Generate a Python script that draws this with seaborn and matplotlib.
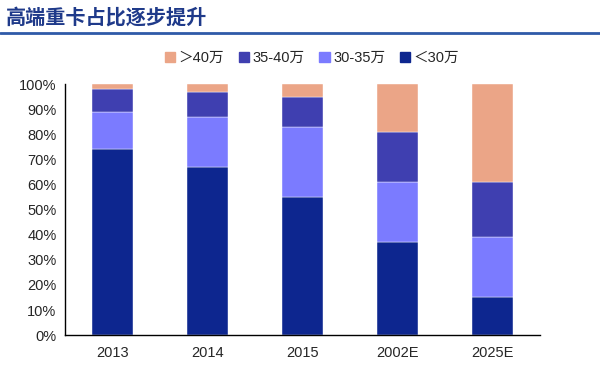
import matplotlib
matplotlib.use("Agg")
import matplotlib.pyplot as plt
import seaborn as sns
import numpy as np
from matplotlib.lines import Line2D

categories = ["2013", "2014", "2015", "2002E", "2025E"]
lt30 = [74, 67, 55, 37, 15]
s30_35 = [15, 20, 28, 24, 24]
s35_40 = [9, 10, 12, 20, 22]
gt40 = [2, 3, 5, 19, 39]
series_names = ["＜30万", "30-35万", "35-40万", "＞40万"]
colors = ["#0D268F", "#7B7BFF", "#3F3FB0", "#EBA587"]
yticks = [0, 10, 20, 30, 40, 50, 60, 70, 80, 90, 100]

sns.set_style("white")
plt.rcParams['font.family'] = ['Liberation Sans', 'Noto Sans CJK SC', 'DejaVu Sans']

fig = plt.figure(figsize=(6, 3.74), dpi=100)
ax = fig.add_axes([0.108, 0.104, 0.792, 0.671])

bottom = np.zeros(len(categories))
handles = []
for vals, name, col in zip([lt30, s30_35, s35_40, gt40], series_names, colors):
    sns.barplot(x=categories, y=vals, bottom=bottom, color=col, width=0.43,
                ax=ax, saturation=1, edgecolor="white", linewidth=0.3)
    bottom = bottom + np.array(vals)
    handles.append(plt.Rectangle((0, 0), 1, 1, color=col, label=name))

ax.set_xlim(-0.5, 4.5)
ax.set_ylim(0, 100)
ax.set_yticks(yticks)
ax.set_yticklabels([f"{t}%" for t in yticks], fontsize=10.5)
ax.tick_params(axis='y', direction='in', length=4, width=1, color='black', pad=6)
ax.set_xticks(range(len(categories)))
ax.set_xticklabels(categories, fontsize=10.5)
ax.tick_params(axis='x', which='major', length=0, pad=8)
ax.set_xticks(np.arange(0.5, 4.6, 1), minor=True)
ax.tick_params(axis='x', which='minor', direction='in', length=4, width=1, color='black')
for s in ['top', 'right']:
    ax.spines[s].set_visible(False)
for s in ['left', 'bottom']:
    ax.spines[s].set_color('black')
    ax.spines[s].set_linewidth(1)
ax.set_xlabel("")
ax.set_ylabel("")

leg = fig.legend(handles=handles[::-1], labels=series_names[::-1], loc='center',
                 bbox_to_anchor=(0.52, 0.845), ncol=4, frameon=False,
                 handlelength=0.7, handleheight=0.7, handletextpad=0.25, columnspacing=1.0,
                 prop={'family': ['Liberation Sans', 'Noto Sans CJK SC'], 'size': 10.5})

fig.text(0.01, 0.955, "高端重卡占比逐步提升", fontsize=14.5, fontweight='bold',
         color="#1F3A8A", va='center', ha='left', family=['Noto Sans CJK SC'])
fig.add_artist(Line2D([0, 1], [0.912, 0.912], transform=fig.transFigure,
                      color="#2F5AA8", linewidth=2))

fig.savefig("out.png", dpi=100)
